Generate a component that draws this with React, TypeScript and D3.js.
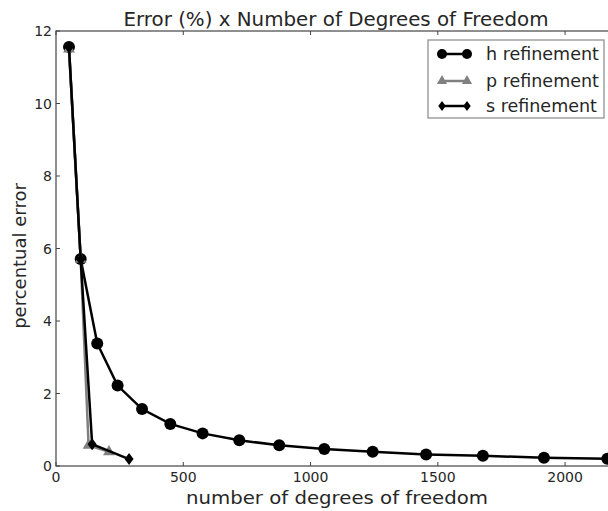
import React from "react";
import * as d3 from "d3";

const hDofs = [51, 97, 162, 242, 338, 449, 576, 720, 877, 1054, 1244, 1454, 1677, 1917, 2166];
const hErrors = [11.56, 5.71, 3.38, 2.22, 1.57, 1.16, 0.9, 0.71, 0.57, 0.47, 0.39, 0.32, 0.28, 0.23, 0.2];
const pDofs = [51, 97, 128, 208];
const pErrors = [11.5, 5.7, 0.57, 0.39];
const sDofs = [51, 97, 142, 287];
const sErrors = [11.55, 5.7, 0.6, 0.19];
const xTicks = [0, 500, 1000, 1500, 2000];
const yTicks = [0, 2, 4, 6, 8, 10, 12];
const seriesNames = ["h refinement", "p refinement", "s refinement"];

const W = 608, H = 511;
const L = 56, T = 31, R = 616, B = 466;
const font = "DejaVu Sans, sans-serif";
const textColor = "#262626";

export default function App() {
  const x = d3.scaleLinear().domain([0, 2200]).range([L, R]);
  const y = d3.scaleLinear().domain([0, 12]).range([B, T]);
  const line = d3.line<[number, number]>().x(d => x(d[0])).y(d => y(d[1]));
  const hPts = hDofs.map((d, i) => [d, hErrors[i]] as [number, number]);
  const pPts = pDofs.map((d, i) => [d, pErrors[i]] as [number, number]);
  const sPts = sDofs.map((d, i) => [d, sErrors[i]] as [number, number]);
  const tri = d3.symbol().type(d3.symbolTriangle).size(60)()!;
  const triLeg = d3.symbol().type(d3.symbolTriangle).size(45)()!;
  const dia = (cx: number, cy: number, r: number) =>
    `M${cx},${cy - r}L${cx + r * 0.75},${cy}L${cx},${cy + r}L${cx - r * 0.75},${cy}Z`;

  const legX = 428, legY = 40;
  const rows = [54, 81, 106];
  const m1 = 442, m2 = 467;

  return (
    <svg width={W} height={H} style={{ position: "absolute", left: 0, top: 0, background: "#fff" }}>
      <rect x={0} y={0} width={W} height={H} fill="#fff" />
      <defs>
        <clipPath id="plot">
          <rect x={L - 8} y={T - 8} width={R - L + 16} height={B - T + 16} />
        </clipPath>
      </defs>
      {xTicks.map(t => (
        <g key={"xt" + t}>
          <line x1={x(t)} x2={x(t)} y1={B} y2={B - 4} stroke="#444" strokeWidth={1} />
          <line x1={x(t)} x2={x(t)} y1={T} y2={T + 4} stroke="#444" strokeWidth={1} />
          <text x={x(t)} y={B + 16} textAnchor="middle" fontFamily={font} fontSize={14} fill={textColor}>{t}</text>
        </g>
      ))}
      {yTicks.map(t => (
        <g key={"yt" + t}>
          <line x1={L} x2={L + 4} y1={y(t)} y2={y(t)} stroke="#444" strokeWidth={1} />
          <text x={L - 4} y={y(t) + 5} textAnchor="end" fontFamily={font} fontSize={14} fill={textColor}>{t}</text>
        </g>
      ))}
      <rect x={L} y={T} width={R - L} height={B - T} fill="none" stroke="#444" strokeWidth={1.2} />
      <g clipPath="url(#plot)">
        <path d={line(hPts)!} fill="none" stroke="#000" strokeWidth={2.5} />
        {hPts.map((p, i) => <circle key={"h" + i} cx={x(p[0])} cy={y(p[1])} r={6} fill="#000" />)}
        <path d={line(pPts)!} fill="none" stroke="#808080" strokeWidth={2.5} />
        {pPts.map((p, i) => <path key={"p" + i} d={tri} transform={`translate(${x(p[0])},${y(p[1])})`} fill="#808080" />)}
        <path d={line(sPts)!} fill="none" stroke="#000" strokeWidth={2.5} />
        {sPts.map((p, i) => <path key={"s" + i} d={dia(x(p[0]), y(p[1]), 6)} fill="#000" />)}
      </g>
      <rect x={legX} y={legY} width={176} height={78} fill="#fff" stroke="#888" strokeWidth={1.2} />
      <line x1={m1} x2={m2} y1={rows[0]} y2={rows[0]} stroke="#000" strokeWidth={2.5} />
      <circle cx={m1} cy={rows[0]} r={5} fill="#000" />
      <circle cx={m2} cy={rows[0]} r={5} fill="#000" />
      <line x1={m1} x2={m2} y1={rows[1]} y2={rows[1]} stroke="#808080" strokeWidth={2.5} />
      <path d={triLeg} transform={`translate(${m1},${rows[1]})`} fill="#808080" />
      <path d={triLeg} transform={`translate(${m2},${rows[1]})`} fill="#808080" />
      <line x1={m1} x2={m2} y1={rows[2]} y2={rows[2]} stroke="#000" strokeWidth={2.5} />
      <path d={dia(m1, rows[2], 5)} fill="#000" />
      <path d={dia(m2, rows[2], 5)} fill="#000" />
      {seriesNames.map((n, i) => (
        <text key={n} x={486} y={rows[i] + 6} fontFamily={font} fontSize={17.5} fill={textColor}>{n}</text>
      ))}
      <text x={(L + R) / 2} y={26} textAnchor="middle" fontFamily={font} fontSize={19.5} fill={textColor}
        textLength={425} lengthAdjust="spacingAndGlyphs">
        Error (%) x Number of Degrees of Freedom
      </text>
      <text x={337} y={504} textAnchor="middle" fontFamily={font} fontSize={18.5} fill={textColor}
        textLength={302} lengthAdjust="spacingAndGlyphs">
        number of degrees of freedom
      </text>
      <text transform={`translate(26,256) rotate(-90)`} textAnchor="middle" fontFamily={font} fontSize={18} fill={textColor}>
        percentual error
      </text>
    </svg>
  );
}
